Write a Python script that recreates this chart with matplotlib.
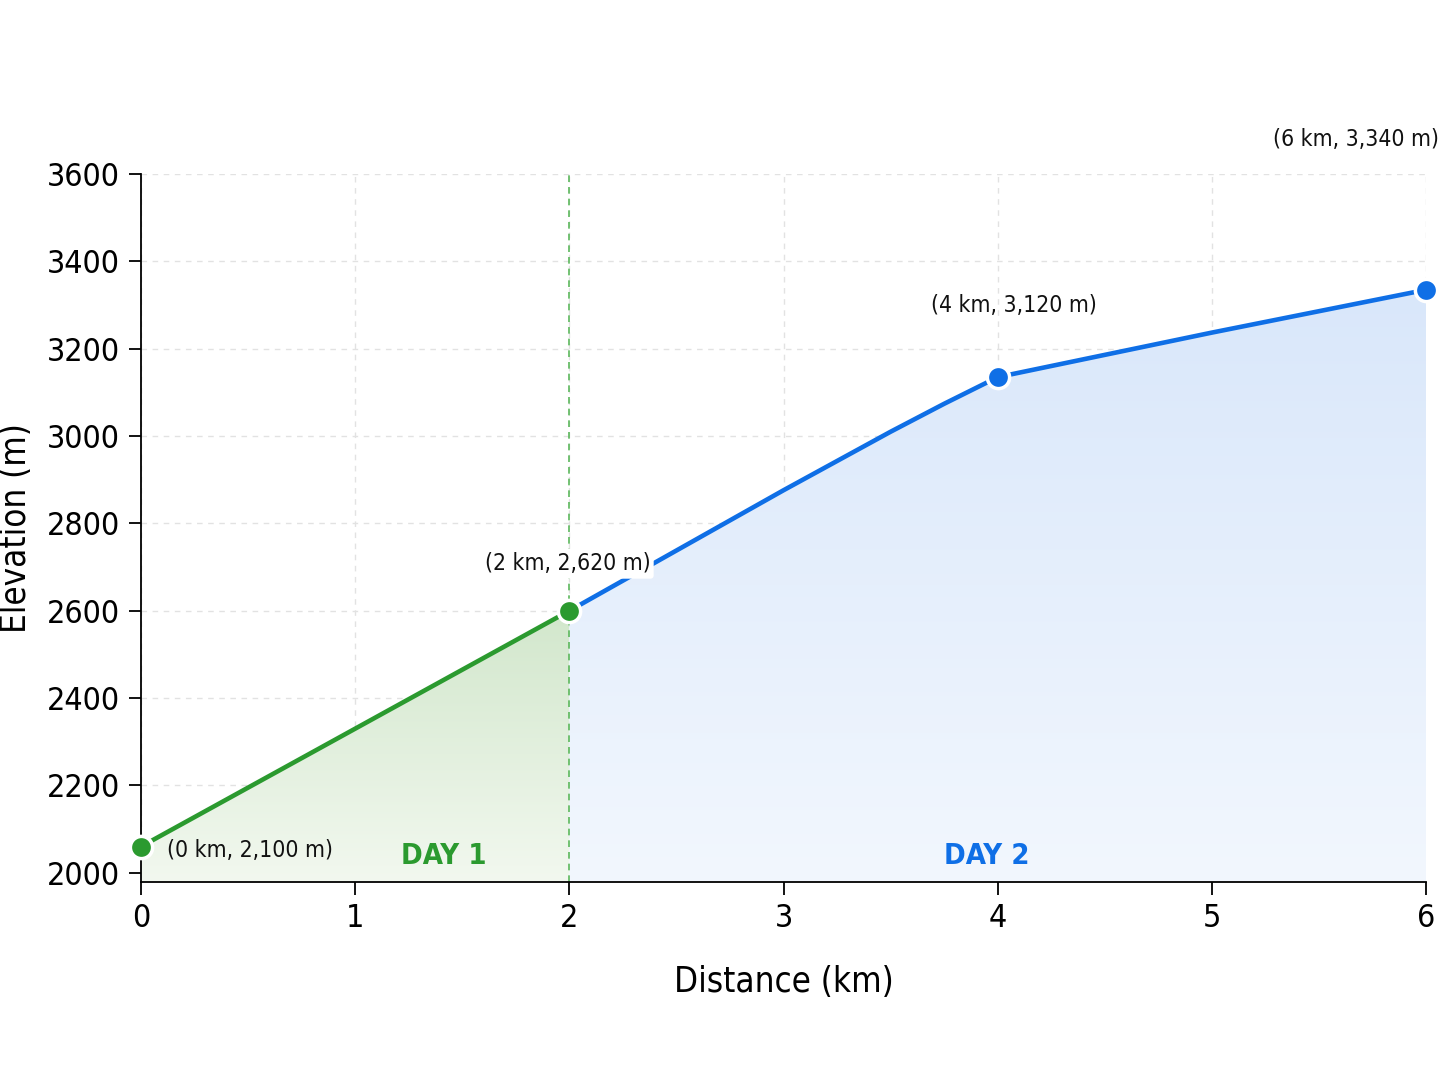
import numpy as np
import matplotlib.pyplot as plt
from matplotlib.patches import Polygon

plt.rcParams['font.family'] = ['DejaVu Sans']
plt.rcParams['font.stretch'] = 'condensed'

# DATA
dist_day1 = [0, 1, 2]
elev_day1 = [2060, 2330, 2600]
dist_day2 = [2, 2.5, 3, 3.5, 3.75, 4, 5, 6]
elev_day2 = [2600, 2738, 2876, 3010, 3074, 3135, 3237, 3335]

marker_km = [0, 2, 4, 6]
marker_elev = [2060, 2600, 3135, 3335]
marker_labels = ['(0 km, 2,100 m)', '(2 km, 2,620 m)', '(4 km, 3,120 m)', '(6 km, 3,340 m)']

GREEN = '#2b9a2f'
BLUE = '#0f6fe6'
YMIN, YMAX = 1978, 3600


def gradient_fill(ax, x, y, top, bottom):
    verts = [(x[0], YMIN)] + list(zip(x, y)) + [(x[-1], YMIN)]
    poly = Polygon(verts, closed=True, facecolor='none', edgecolor='none')
    ax.add_patch(poly)
    g = np.linspace(0, 1, 256)[:, None, None]
    top = np.array(top) / 255.0
    bottom = np.array(bottom) / 255.0
    img = top * (1 - g) + bottom * g
    im = ax.imshow(img, extent=[x[0], x[-1], YMIN, max(y)], origin='upper',
                   aspect='auto', zorder=1, interpolation='bilinear')
    im.set_clip_path(poly)


fig = plt.figure(figsize=(14.45, 10.88), dpi=100)
ax = fig.add_axes([0.0976, 0.189, 0.8893, 0.651])

gradient_fill(ax, dist_day1, elev_day1, (210, 231, 204), (242, 248, 239))
gradient_fill(ax, dist_day2, elev_day2, (217, 231, 250), (242, 247, 254))

ax.plot(dist_day1, elev_day1, color=GREEN, lw=3.3, zorder=3, solid_capstyle='round')
ax.plot(dist_day2, elev_day2, color=BLUE, lw=3.3, zorder=3, solid_capstyle='round',
        solid_joinstyle='round')

ax.axvline(2, color='#5cb85c', lw=1.2, ls=(0, (4, 3)), zorder=2)

mcolors = [GREEN, GREEN, BLUE, BLUE]
for k, e, c in zip(marker_km, marker_elev, mcolors):
    ax.plot(k, e, 'o', ms=16, color=c, mec='white', mew=2.5, zorder=5, clip_on=False)

# point labels
offsets = [(26, -4), (-2, 47), (16, 72), (-70, 150)]
aligns = ['left', 'center', 'center', 'center']
for k, e, lab, off, ha in zip(marker_km, marker_elev, marker_labels, offsets, aligns):
    bbox = None
    if k == 2:
        bbox = dict(boxstyle='round,pad=0.15', fc='white', ec='none')
    ax.annotate(lab, (k, e), xytext=off, textcoords='offset pixels',
                ha=ha, va='center', fontsize=16.5, color='#111111',
                zorder=6, bbox=bbox, annotation_clip=False)

ax.text(1.415, 2038, 'DAY 1', color=GREEN, fontsize=21, fontweight='bold',
        ha='center', va='center', zorder=6)
ax.text(3.95, 2038, 'DAY 2', color=BLUE, fontsize=21, fontweight='bold',
        ha='center', va='center', zorder=6)

ax.set_xlim(0, 6)
ax.set_ylim(YMIN, YMAX)
ax.set_xticks(range(0, 7))
ax.set_yticks(range(2000, 3601, 200))
ax.grid(True, color='#e2e2e2', ls=(0, (4, 4)), lw=1)
ax.set_axisbelow(True)
for s in ['top', 'right']:
    ax.spines[s].set_visible(False)
ax.spines['left'].set_linewidth(1.3)
ax.spines['bottom'].set_linewidth(1.3)
ax.tick_params(direction='out', length=9, width=1.3, labelsize=23, pad=6)

ax.set_xlabel('Distance (km)', fontsize=25, labelpad=22)
ax.set_ylabel('Elevation (m)', fontsize=25, labelpad=10)

fig.savefig('out.png', dpi=100, facecolor='white')
